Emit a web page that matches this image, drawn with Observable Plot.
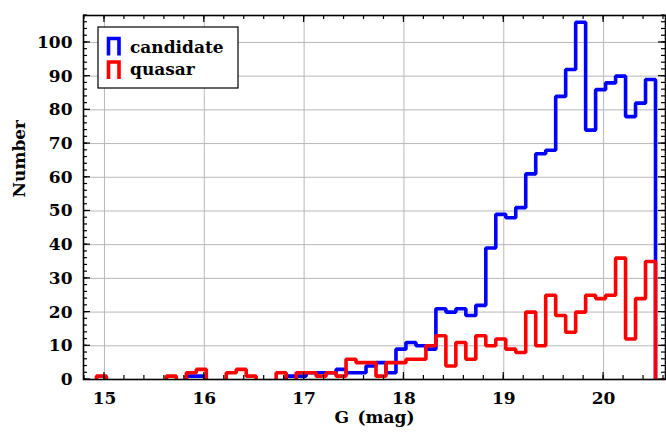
<!DOCTYPE html>
<html>
<head>
<meta charset="utf-8">
<script src="https://cdn.jsdelivr.net/npm/d3@7"></script>
<script src="https://cdn.jsdelivr.net/npm/@observablehq/plot@0.6"></script>
<style>
  html, body { margin: 0; padding: 0; background: #fff; }
  #chart svg { display: block; }
</style>
</head>
<body>
<div id="chart"></div>
<script>
// G-band magnitude histograms, 0.1 mag bins starting at G = 14.92
const binStart = 14.92;
const binWidth = 0.1;

const candidateCounts = [
  0, 0, 0, 0, 0, 0, 0, 0, 0, 1,
  1, 0, 0, 0, 0, 0, 0, 0, 0, 1,
  1, 2, 2, 2, 3, 2, 2, 4, 5, 2,
  9, 11, 10, 9, 21, 20, 21, 19, 22, 39,
  49, 48, 51, 61, 67, 68, 84, 92, 106, 74,
  86, 88, 90, 78, 82, 89
];

const quasarCounts = [
  1, 0, 0, 0, 0, 0, 0, 1, 0, 2,
  3, 0, 0, 2, 3, 1, 0, 0, 2, 0,
  2, 2, 1, 2, 1, 6, 5, 5, 1, 5,
  5, 6, 6, 10, 13, 4, 11, 6, 13, 10,
  12, 9, 8, 20, 10, 25, 19, 14, 20, 25,
  24, 25, 36, 12, 24, 35
];

const seriesNames = ["candidate", "quasar"];
const seriesColors = ["#0000ff", "#ff0000"];

const xMajorTicks = [15, 16, 17, 18, 19, 20];
const yMajorTicks = [0, 10, 20, 30, 40, 50, 60, 70, 80, 90, 100];

const xDomain = [14.79, 20.62];
const yDomain = [0, 108];
const xMinorTicks = d3.range(14.8, 20.61, 0.2).map(v => +v.toFixed(1));
const yMinorTicks = d3.range(0, 108.1, 2);

// Step outline of a histogram; empty bins leave a gap on the baseline
function outline(counts) {
  const edge = k => +(binStart + k * binWidth).toFixed(2);
  const pts = [{x: edge(0), y: 0}];
  counts.forEach((c, k) => {
    if (c > 0) {
      pts.push({x: edge(k), y: c}, {x: edge(k + 1), y: c});
    } else {
      pts.push({x: edge(k), y: 0}, {x: NaN, y: NaN}, {x: edge(k + 1), y: 0});
    }
  });
  pts.push({x: edge(counts.length), y: 0});
  return pts;
}

const fontFamily = "'DejaVu Serif', serif";
const font = {fontFamily, fontSize: 17, fontWeight: "bold", fill: "black"};
const lineStyle = {strokeWidth: 3.6, strokeLinejoin: "miter", strokeLinecap: "butt", clip: "frame"};

const chart = Plot.plot({
  width: 666,
  height: 437,
  marginLeft: 83,
  marginRight: 1,
  marginTop: 15,
  marginBottom: 58,
  style: {background: "white", fontFamily},
  x: {domain: xDomain, axis: null},
  y: {domain: yDomain, axis: null},
  marks: [
    Plot.gridX(xMajorTicks, {stroke: "#b8b8b8", strokeOpacity: 1, strokeWidth: 1}),
    Plot.gridY(yMajorTicks, {stroke: "#b8b8b8", strokeOpacity: 1, strokeWidth: 1}),
    Plot.line(outline(candidateCounts), {x: "x", y: "y", stroke: seriesColors[0], ...lineStyle}),
    Plot.line(outline(quasarCounts), {x: "x", y: "y", stroke: seriesColors[1], ...lineStyle}),
    Plot.frame({stroke: "black", strokeWidth: 1.6}),
    // tick labels
    Plot.axisX(xMajorTicks, {anchor: "bottom", tickSize: 0, tickPadding: 12, label: null, ...font}),
    Plot.axisY(yMajorTicks, {anchor: "left", tickSize: 0, tickPadding: 11, label: null, ...font}),
    // axis titles
    Plot.text(["G\u2002(mag)"], {frameAnchor: "bottom", dy: 43, lineAnchor: "bottom", text: d => d, ...font}),
    Plot.text(["Number"], {frameAnchor: "left", dx: -64, rotate: -90, text: d => d, ...font})
  ]
});

document.getElementById("chart").appendChild(chart);

const svg = d3.select(chart);
const xs = chart.scale("x");
const ys = chart.scale("y");
const [x0, x1] = xs.range;
const [yb, yt] = ys.range;

// Inward ticks on all four sides of the frame
const ticks = svg.append("g").attr("stroke", "black").attr("stroke-width", 1.2);
function xTicks(values, len) {
  values.forEach(v => {
    const px = xs.apply(v);
    ticks.append("line").attr("x1", px).attr("x2", px).attr("y1", yb).attr("y2", yb - len);
    ticks.append("line").attr("x1", px).attr("x2", px).attr("y1", yt).attr("y2", yt + len);
  });
}
function yTicks(values, len) {
  values.forEach(v => {
    const py = ys.apply(v);
    ticks.append("line").attr("y1", py).attr("y2", py).attr("x1", x0).attr("x2", x0 + len);
    ticks.append("line").attr("y1", py).attr("y2", py).attr("x1", x1).attr("x2", x1 - len);
  });
}
xTicks(xMinorTicks, 4);
xTicks(xMajorTicks, 7);
yTicks(yMinorTicks, 4);
yTicks(yMajorTicks, 7);

// Legend box in the upper-left corner of the frame
const legend = svg.append("g").attr("class", "legend").attr("text-anchor", "start");
legend.append("rect")
  .attr("x", 98).attr("y", 27).attr("width", 140).attr("height", 61)
  .attr("fill", "white").attr("stroke", "black").attr("stroke-width", 1.2);
const rowTop = [38.5, 62];
const rowBase = [52.5, 75];
seriesNames.forEach((name, i) => {
  const t = rowTop[i];
  legend.append("path")
    .attr("d", `M108.5,${t + 17}V${t}H119V${t + 17}`)
    .attr("fill", "none").attr("stroke", seriesColors[i])
    .attr("stroke-width", 3.6).attr("stroke-linejoin", "miter");
  legend.append("text")
    .attr("x", 130).attr("y", rowBase[i])
    .attr("font-family", fontFamily).attr("font-size", 17)
    .attr("font-weight", "bold").attr("fill", "black")
    .text(name);
});
</script>
</body>
</html>
